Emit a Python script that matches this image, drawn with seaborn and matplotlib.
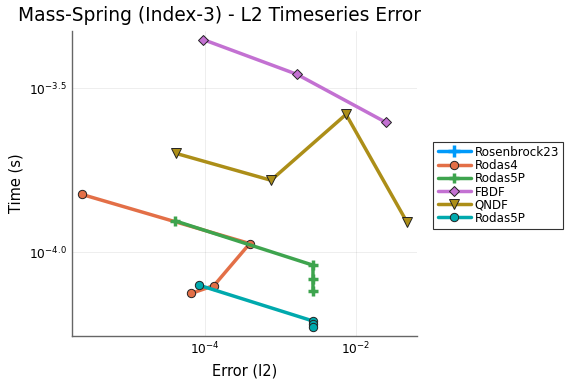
import numpy as np
import pandas as pd
import matplotlib
matplotlib.use('Agg')
import matplotlib.pyplot as plt
import matplotlib.ticker as mticker
import seaborn as sns

# log10 values
rodas4_err = [-5.633, -3.408, -3.881, -4.181]
rodas4_time = [-3.823, -3.973, -4.101, -4.125]

rodas5p_err = [-4.393, -2.570, -2.570, -2.570]
rodas5p_time = [-3.904, -4.039, -4.082, -4.117]

fbdf_err = [-4.022, -2.781, -1.607]
fbdf_time = [-3.351, -3.457, -3.603]

qndf_err = [-4.384, -3.126, -2.132, -1.329]
qndf_time = [-3.698, -3.780, -3.579, -3.906]

rodas5p2_err = [-4.079, -2.574, -2.574, -2.574]
rodas5p2_time = [-4.100, -4.209, -4.219, -4.229]

series = [
    ('Rodas4', rodas4_err, rodas4_time, '#E36F47', 'o', 6),
    ('Rodas5P', rodas5p_err, rodas5p_time, '#3EA44E', 'P', 7),
    ('FBDF', fbdf_err, fbdf_time, '#C371D2', 'D', 5),
    ('QNDF', qndf_err, qndf_time, '#AC8E18', 'v', 7),
    ('Rodas5P ', rodas5p2_err, rodas5p2_time, '#00A9AD', 'o', 6),
]

sns.set_style('white')
plt.rcParams['font.family'] = ['DejaVu Sans']
plt.rcParams['text.color'] = 'black'
plt.rcParams['axes.labelcolor'] = 'black'
plt.rcParams['xtick.color'] = 'black'
plt.rcParams['ytick.color'] = 'black'

fig = plt.figure(figsize=(5.76, 3.84), dpi=100)
ax = fig.add_axes([0.125, 0.125, 0.599, 0.794])

# Rosenbrock23 has no points on the plot, only the legend entry
ax.plot([], [], color='#009AFA', lw=2.5, marker='+', ms=8, mew=2.5, label='Rosenbrock23')

for name, ex, ty, col, mk, ms in series:
    df = pd.DataFrame({'err': 10.0 ** np.array(ex), 'time': 10.0 ** np.array(ty)})
    if mk == 'P':
        sns.lineplot(data=df, x='err', y='time', sort=False, estimator=None, ax=ax,
                     color=col, lw=2.5, marker='+', markersize=7, markeredgewidth=2.5,
                     markeredgecolor=col, label=name.strip())
    else:
        sns.lineplot(data=df, x='err', y='time', sort=False, estimator=None, ax=ax,
                     color=col, lw=2.5, marker=mk, markersize=ms, markeredgewidth=0.7,
                     markeredgecolor='#222222', label=name.strip())

ax.set_xscale('log')
ax.set_yscale('log')
ax.set_xlim(10 ** -5.762, 10 ** -1.192)
ax.set_ylim(10 ** -4.255, 10 ** -3.325)

ax.xaxis.set_major_locator(mticker.FixedLocator([1e-4, 1e-2]))
ax.xaxis.set_major_formatter(mticker.FixedFormatter([r'$10^{-4}$', r'$10^{-2}$']))
ax.xaxis.set_minor_locator(mticker.NullLocator())
ax.yaxis.set_major_locator(mticker.FixedLocator([10 ** -4.0, 10 ** -3.5]))
ax.yaxis.set_major_formatter(mticker.FixedFormatter([r'$10^{-4.0}$', r'$10^{-3.5}$']))
ax.yaxis.set_minor_locator(mticker.NullLocator())

ax.grid(True, color='#000000', alpha=0.08, lw=0.6)
for s in ['top', 'right']:
    ax.spines[s].set_visible(False)
for s in ['left', 'bottom']:
    ax.spines[s].set_color('#666666')
    ax.spines[s].set_linewidth(1.0)
ax.tick_params(axis='both', which='major', labelsize=8.8, length=3, width=0.8,
               color='#444444', direction='in')

ax.set_xlabel('Error (l2)', fontsize=10.5)
ax.set_ylabel('Time (s)', fontsize=10.5)
fig.text(0.031, 0.985, 'Mass-Spring (Index-3) - L2 Timeseries Error', fontsize=13.4, va='top', ha='left')

leg = ax.legend(loc='upper left', bbox_to_anchor=(1.03, 0.657), fontsize=8.6, frameon=True,
                fancybox=False, framealpha=1, edgecolor='#333333', borderpad=0.35,
                labelspacing=0.02, handlelength=2.8, handletextpad=0.3, handleheight=0.9)
leg.get_frame().set_linewidth(0.8)

fig.savefig('out.png', dpi=100)
